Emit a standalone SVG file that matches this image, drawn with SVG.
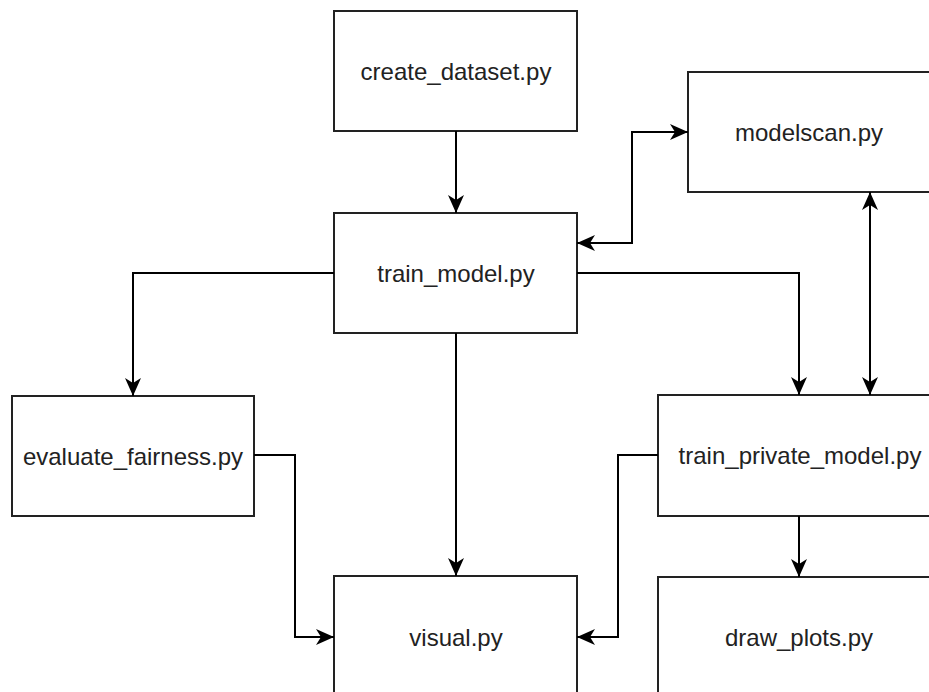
<svg xmlns="http://www.w3.org/2000/svg" width="929" height="692" viewBox="0 0 929 692">
  <style>
    .box { fill: #ffffff; stroke: #222222; stroke-width: 2; }
    .label { font-family: "Liberation Sans", Arial, sans-serif; font-size: 24px; fill: #222222; text-anchor: middle; }
    .edge { fill: none; stroke: #000000; stroke-width: 2; }
  </style>
  <defs>
    <marker id="arrow" viewBox="0 0 18 16" refX="18" refY="8" markerWidth="18" markerHeight="16" markerUnits="userSpaceOnUse" orient="auto-start-reverse">
      <path d="M0,0 L18,8 L0,16 L5,8 Z" fill="#000000"/>
    </marker>
  </defs>
  <rect width="929" height="692" fill="#ffffff"/>

  <g id="create_dataset">
    <rect class="box" x="334" y="11" width="243" height="120"/>
    <text class="label" x="456" y="80">create_dataset.py</text>
  </g>
  <g id="train_model">
    <rect class="box" x="334" y="213" width="243" height="120"/>
    <text class="label" x="456" y="282">train_model.py</text>
  </g>
  <g id="modelscan">
    <rect class="box" x="688" y="72" width="243" height="120"/>
    <text class="label" x="809" y="141">modelscan.py</text>
  </g>
  <g id="evaluate_fairness">
    <rect class="box" x="12" y="396" width="242" height="120"/>
    <text class="label" x="133" y="465">evaluate_fairness.py</text>
  </g>
  <g id="train_private_model">
    <rect class="box" x="658" y="395" width="284" height="121"/>
    <text class="label" x="800" y="464">train_private_model.py</text>
  </g>
  <g id="visual">
    <rect class="box" x="334" y="576" width="243" height="130"/>
    <text class="label" x="456" y="646">visual.py</text>
  </g>
  <g id="draw_plots">
    <rect class="box" x="658" y="577" width="284" height="130"/>
    <text class="label" x="799" y="646">draw_plots.py</text>
  </g>

  <g id="connectors">
    <path class="edge" d="M456,131 L456,213" marker-end="url(#arrow)"/>
    <path class="edge" d="M577,243 L632,243 L632,132 L688,132" marker-start="url(#arrow)" marker-end="url(#arrow)"/>
    <path class="edge" d="M334,273 L133,273 L133,396" marker-end="url(#arrow)"/>
    <path class="edge" d="M456,333 L456,576" marker-end="url(#arrow)"/>
    <path class="edge" d="M577,273 L799,273 L799,395" marker-end="url(#arrow)"/>
    <path class="edge" d="M870,192 L870,395" marker-start="url(#arrow)" marker-end="url(#arrow)"/>
    <path class="edge" d="M254,455 L295,455 L295,637 L334,637" marker-end="url(#arrow)"/>
    <path class="edge" d="M658,455 L618,455 L618,637 L577,637" marker-end="url(#arrow)"/>
    <path class="edge" d="M799,516 L799,577" marker-end="url(#arrow)"/>
  </g>
</svg>
